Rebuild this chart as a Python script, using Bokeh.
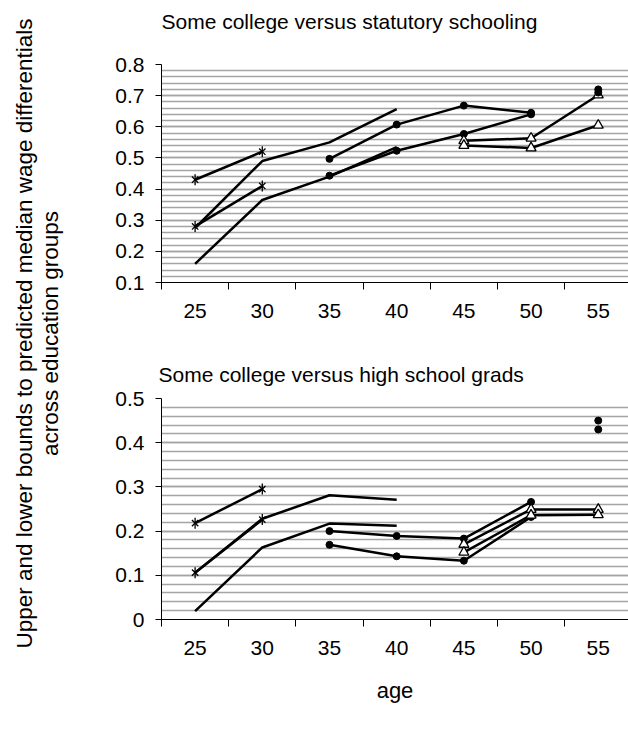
import math
from bokeh.plotting import figure
from bokeh.models import FixedTicker, Label, Range1d
from bokeh.layouts import row, column
from bokeh.embed import file_html
from bokeh.resources import INLINE

# ---------------- data ----------------
AGES = [25, 30, 35, 40, 45, 50, 55]
AGE_BOUNDARIES = [22.5, 27.5, 32.5, 37.5, 42.5, 47.5, 52.5]

TOP_TITLE = "Some college versus statutory schooling"
TOP_Y_TICKS = [0.1, 0.2, 0.3, 0.4, 0.5, 0.6, 0.7, 0.8]

# Some college vs statutory schooling
S_STAR_A_AGES = [25, 30]
S_STAR_A = [0.43, 0.52]
S_STAR_B_AGES = [25, 30]
S_STAR_B = [0.28, 0.41]
S_LINE_A_AGES = [25, 30, 35, 40]
S_LINE_A = [0.275, 0.49, 0.55, 0.657]
S_LINE_B_AGES = [25, 30, 35, 40]
S_LINE_B = [0.16, 0.365, 0.44, 0.535]
S_DOT_A_AGES = [35, 40, 45, 50]
S_DOT_A = [0.497, 0.607, 0.668, 0.645]
S_DOT_B_AGES = [35, 40, 45, 50]
S_DOT_B = [0.443, 0.523, 0.577, 0.64]
S_TRI_A_AGES = [45, 50, 55]
S_TRI_A = [0.555, 0.563, 0.702]
S_TRI_B_AGES = [45, 50, 55]
S_TRI_B = [0.54, 0.532, 0.605]
S_DOT_C_AGES = [55, 55]
S_DOT_C = [0.72, 0.71]

BOT_TITLE = "Some college versus high school grads"
BOT_Y_TICKS = [0, 0.1, 0.2, 0.3, 0.4, 0.5]

# Some college vs high school grads
H_STAR_A_AGES = [25, 30]
H_STAR_A = [0.218, 0.295]
H_STAR_B_AGES = [25, 30]
H_STAR_B = [0.106, 0.226]
H_LINE_A_AGES = [25, 30, 35, 40]
H_LINE_A = [0.106, 0.228, 0.281, 0.271]
H_LINE_B_AGES = [25, 30, 35, 40]
H_LINE_B = [0.019, 0.163, 0.217, 0.212]
H_DOT_A_AGES = [35, 40, 45, 50]
H_DOT_A = [0.20, 0.189, 0.183, 0.266]
H_DOT_B_AGES = [35, 40, 45, 50]
H_DOT_B = [0.169, 0.143, 0.133, 0.232]
H_TRI_A_AGES = [45, 50, 55]
H_TRI_A = [0.170, 0.249, 0.249]
H_TRI_B_AGES = [45, 50, 55]
H_TRI_B = [0.152, 0.236, 0.237]
H_DOT_C_AGES = [55, 55]
H_DOT_C = [0.45, 0.43]

Y_LABEL_1 = "Upper and lower bounds to predicted median wage differentials"
Y_LABEL_2 = "across education groups"
X_LABEL = "age"

FONT = "Liberation Sans"
GRID = "#a4a4a4"
INK = "black"


def add_series(p, xs, ys, marker=None):
    p.line(xs, ys, line_color="black", line_width=2.5)
    if marker == "star":
        p.scatter(xs, ys, marker="x", size=9, line_color="black", line_width=1.3)
        p.scatter(xs, ys, marker="dash", angle=math.pi / 2, size=11,
                  line_color="black", line_width=1.3)
    elif marker == "dot":
        p.scatter(xs, ys, marker="circle", size=7, fill_color="black", line_color="black")
    elif marker == "tri":
        p.scatter(xs, ys, marker="triangle", size=10, fill_color="white",
                  line_color="black", line_width=1.3)


def make_panel(y0, y1, yticks, height, btop, bbottom, xlabel=None):
    p = figure(width=560, height=height, x_range=Range1d(22.5, 57.25),
               y_range=Range1d(y0, y1), output_backend="svg", toolbar_location=None,
               min_border_left=93, min_border_right=0, min_border_top=btop,
               min_border_bottom=bbottom)
    p.outline_line_color = None

    n = int(round((y1 - y0) / 0.02))
    minor = [round(y0 + i * 0.02, 2) for i in range(n + 1)]
    p.yaxis.ticker = FixedTicker(ticks=yticks, minor_ticks=minor)
    p.yaxis.major_label_overrides = {t: ("0" if t == 0 else f"{t:.1f}") for t in yticks}
    p.yaxis.major_tick_out = 6
    p.yaxis.major_tick_in = 0
    p.yaxis.minor_tick_line_color = None
    p.yaxis.major_label_standoff = 11
    p.yaxis.major_label_text_font = FONT
    p.yaxis.major_label_text_font_size = "21px"
    p.yaxis.major_label_text_color = INK
    p.yaxis.axis_line_color = "black"
    p.yaxis.major_tick_line_color = "black"

    p.xaxis.ticker = FixedTicker(ticks=AGES, minor_ticks=AGE_BOUNDARIES)
    p.xaxis.major_label_overrides = {a: str(a) for a in AGES}
    p.xaxis.major_tick_line_color = None
    p.xaxis.minor_tick_line_color = "black"
    p.xaxis.minor_tick_out = 7
    p.xaxis.minor_tick_in = 0
    p.xaxis.major_label_standoff = 14
    p.xaxis.major_label_text_font = FONT
    p.xaxis.major_label_text_font_size = "21px"
    p.xaxis.major_label_text_color = INK
    p.xaxis.axis_line_color = "black"
    if xlabel:
        p.xaxis.axis_label = xlabel
        p.xaxis.axis_label_text_font = FONT
        p.xaxis.axis_label_text_font_size = "22px"
        p.xaxis.axis_label_text_font_style = "normal"
        p.xaxis.axis_label_text_color = INK
        p.xaxis.axis_label_standoff = 20

    p.xgrid.visible = False
    p.ygrid.grid_line_color = GRID
    p.ygrid.grid_line_width = 1.6
    p.ygrid.minor_grid_line_color = GRID
    p.ygrid.minor_grid_line_width = 1.6
    return p


# strip holding the upper panel's title (its frame is aligned with the panels below)
title_top = figure(width=560, height=40, x_range=Range1d(0, 467), y_range=Range1d(0, 40),
                   output_backend="svg", toolbar_location=None, min_border=0)
title_top.axis.visible = False
title_top.grid.visible = False
title_top.outline_line_color = None
title_top.add_layout(Label(x=0, y=19, text=TOP_TITLE, text_font=FONT, text_color=INK,
                           text_font_size="21px", text_align="left",
                           text_baseline="middle"))

top = make_panel(0.1, 0.8, TOP_Y_TICKS, 300, 24, 58)
add_series(top, S_LINE_A_AGES, S_LINE_A)
add_series(top, S_LINE_B_AGES, S_LINE_B)
add_series(top, S_STAR_A_AGES, S_STAR_A, "star")
add_series(top, S_STAR_B_AGES, S_STAR_B, "star")
add_series(top, S_DOT_A_AGES, S_DOT_A, "dot")
add_series(top, S_DOT_B_AGES, S_DOT_B, "dot")
add_series(top, S_TRI_A_AGES, S_TRI_A, "tri")
add_series(top, S_TRI_B_AGES, S_TRI_B, "tri")
top.scatter(S_DOT_C_AGES, S_DOT_C, marker="circle", size=7, fill_color="black", line_color="black")

bot = make_panel(0.0, 0.5, BOT_Y_TICKS, 392, 58, 113, X_LABEL)
bot.title.text = BOT_TITLE
bot.title.text_font = FONT
bot.title.text_font_size = "21px"
bot.title.text_font_style = "normal"
bot.title.text_color = INK
bot.title.align = "left"
bot.title.vertical_align = "bottom"
bot.title.standoff = 26
bot.title.offset = -3
add_series(bot, H_LINE_A_AGES, H_LINE_A)
add_series(bot, H_LINE_B_AGES, H_LINE_B)
add_series(bot, H_STAR_A_AGES, H_STAR_A, "star")
add_series(bot, H_STAR_B_AGES, H_STAR_B, "star")
add_series(bot, H_DOT_A_AGES, H_DOT_A, "dot")
add_series(bot, H_DOT_B_AGES, H_DOT_B, "dot")
add_series(bot, H_TRI_A_AGES, H_TRI_A, "tri")
add_series(bot, H_TRI_B_AGES, H_TRI_B, "tri")
bot.scatter(H_DOT_C_AGES, H_DOT_C, marker="circle", size=7, fill_color="black", line_color="black")

# side figure carrying the shared y-axis label
side = figure(width=68, height=732, x_range=Range1d(0, 68), y_range=Range1d(0, 732),
              output_backend="svg", toolbar_location=None, min_border=0)
side.axis.visible = False
side.grid.visible = False
side.outline_line_color = None
side.add_layout(Label(x=24, y=732 - 333, text=Y_LABEL_1, angle=math.pi / 2,
                      text_align="center", text_baseline="middle", text_font=FONT,
                      text_color=INK, text_font_size="22.5px"))
side.add_layout(Label(x=50, y=732 - 333, text=Y_LABEL_2, angle=math.pi / 2,
                      text_align="center", text_baseline="middle", text_font=FONT,
                      text_color=INK, text_font_size="22.5px"))

layout = row(side, column(title_top, top, bot))
open("out.html", "w").write(file_html(layout, INLINE))
